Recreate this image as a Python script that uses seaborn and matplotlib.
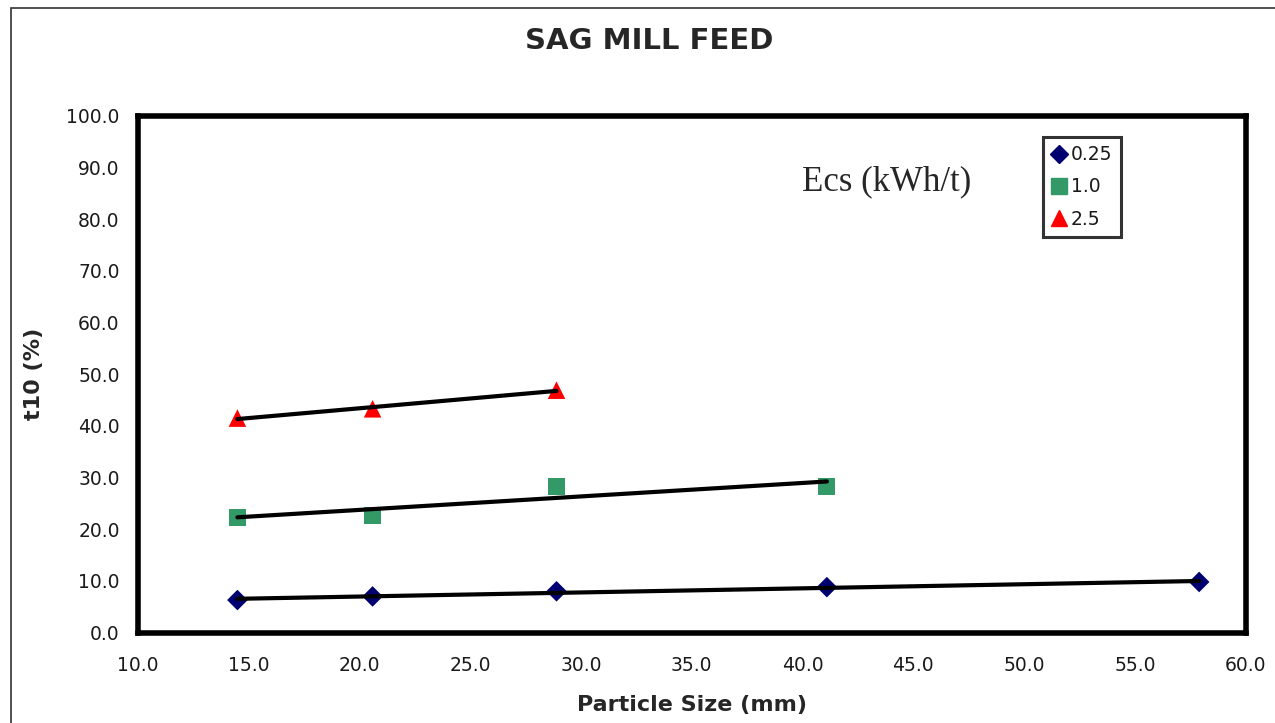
import matplotlib
matplotlib.use("Agg")
import matplotlib.pyplot as plt
import pandas as pd
import seaborn as sns
from matplotlib.lines import Line2D
from matplotlib.patches import Rectangle

# Ecs series (kWh/t)
ecs_labels = ["0.25", "1.0", "2.5"]
size_025 = [14.5, 20.6, 28.9, 41.1, 57.9]
t10_025 = [6.3, 7.0, 8.0, 8.8, 9.8]
size_10 = [14.5, 20.6, 28.9, 41.1]
t10_10 = [22.2, 22.7, 28.3, 28.3]
size_25 = [14.5, 20.6, 28.9]
t10_25 = [41.5, 43.3, 46.9]

x_ticks = [10, 15, 20, 25, 30, 35, 40, 45, 50, 55, 60]
y_ticks = [0, 10, 20, 30, 40, 50, 60, 70, 80, 90, 100]

colors = {"0.25": "#000070", "1.0": "#339966", "2.5": "#ff0000"}
markers = {"0.25": "D", "1.0": "s", "2.5": "^"}
msize = {"0.25": 110, "1.0": 150, "2.5": 160}

frames = []
for lab, xs, ys in zip(ecs_labels, [size_025, size_10, size_25], [t10_025, t10_10, t10_25]):
    frames.append(pd.DataFrame({"size": xs, "t10": ys, "Ecs": lab}))
data = pd.concat(frames, ignore_index=True)

sns.set_style("white")
plt.rcParams["font.family"] = ["DejaVu Sans"]

fig = plt.figure(figsize=(12.75, 7.23), dpi=100)
ax = fig.add_axes([0.108, 0.125, 0.869, 0.715])

# outer frame of the chart area
fig.patches.append(Rectangle((11 / 1275, -0.05), 1.2, 1 - 8 / 723 + 0.05,
                             transform=fig.transFigure, fill=False,
                             edgecolor="#333333", linewidth=1.2, zorder=0))

for lab in ecs_labels:
    sub = data[data["Ecs"] == lab]
    sns.scatterplot(data=sub, x="size", y="t10", color=colors[lab],
                    marker=markers[lab], s=msize[lab], edgecolor="none",
                    legend=False, ax=ax, zorder=2)
    sns.regplot(data=sub, x="size", y="t10", scatter=False, ci=None, ax=ax,
                line_kws={"color": "black", "linewidth": 3.0, "zorder": 3})

ax.set_xlim(10, 60)
ax.set_ylim(0, 100)
ax.set_xticks(x_ticks)
ax.set_yticks(y_ticks)
ax.set_xticklabels([f"{v:.1f}" for v in x_ticks])
ax.set_yticklabels([f"{v:.1f}" for v in y_ticks])
ax.tick_params(direction="in", length=6, width=3, colors="black",
               labelcolor="#1a1a1a", labelsize=13.5)
ax.tick_params(axis="x", pad=17)
ax.tick_params(axis="y", pad=13)
for sp in ax.spines.values():
    sp.set_color("black")
    sp.set_linewidth(4)

ax.set_xlabel("Particle Size (mm)", fontsize=16, fontweight="bold")
ax.xaxis.set_label_coords(0.5, -0.12)
ax.set_ylabel("t10 (%)", fontsize=16, fontweight="bold")
ax.yaxis.set_label_coords(-0.085, 0.5)
fig.text(0.509, 0.943, "SAG MILL FEED", fontsize=21, fontweight="bold",
         ha="center", va="center")

ax.text(0.6, 0.872, "Ecs (kWh/t)", transform=ax.transAxes,
        fontsize=25, family=["Liberation Serif"], va="center")

handles = [Line2D([], [], linestyle="none", marker=markers[l], color=colors[l],
                  markersize=msize[l] ** 0.5 * (0.85 if l == "0.25" else 0.9))
           for l in ecs_labels]
leg = ax.legend(handles, ecs_labels, loc="upper left",
                bbox_to_anchor=(0.817, 0.959), frameon=True, fancybox=False,
                fontsize=13.5, handlelength=0.8, handletextpad=0.25,
                borderpad=0.45, labelspacing=0.7, borderaxespad=0)
leg.get_frame().set_edgecolor("black")
leg.get_frame().set_linewidth(2.2)
for t in leg.get_texts():
    t.set_color("#1a1a1a")

fig.savefig("out.png", dpi=100)
